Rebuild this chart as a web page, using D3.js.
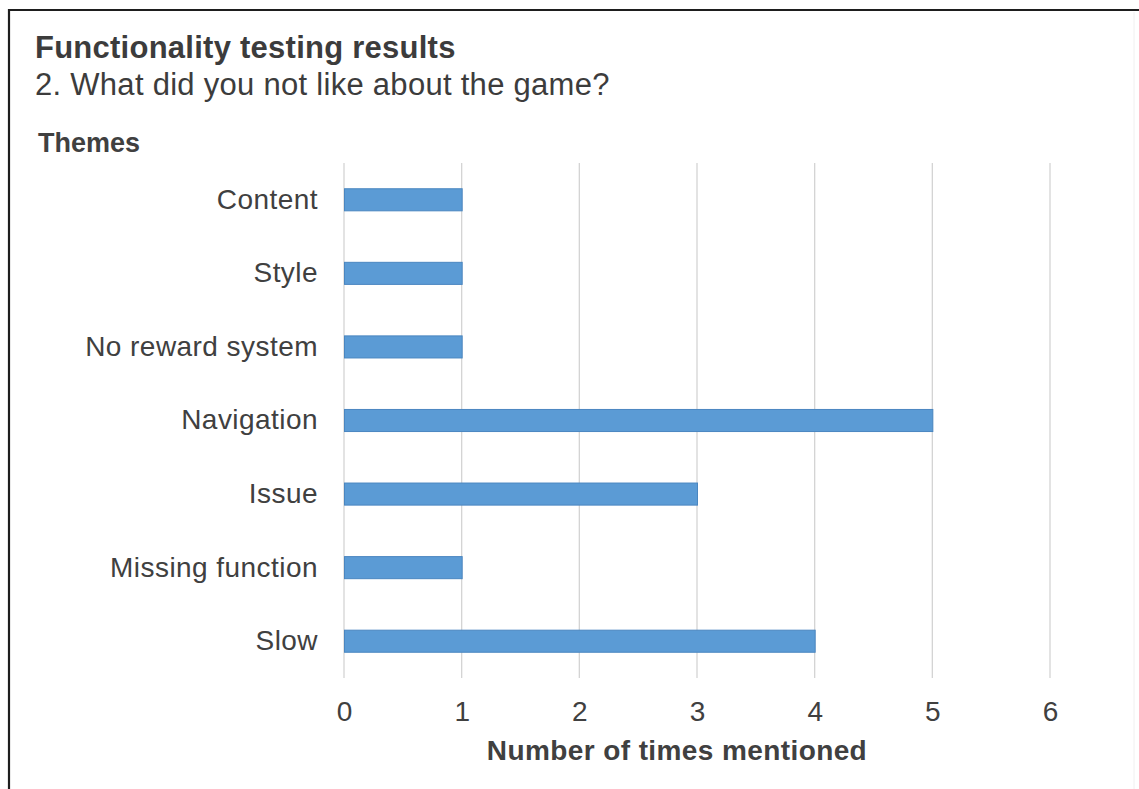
<!DOCTYPE html>
<html>
<head>
<meta charset="utf-8">
<script src="https://cdn.jsdelivr.net/npm/d3@7"></script>
<style>
  html, body { margin: 0; padding: 0; background: #fff; }
  svg { display: block; font-family: "Liberation Sans", Arial, sans-serif; }
</style>
</head>
<body>
<svg id="chart" width="1139" height="789"></svg>
<script>
// Themes mentioned in answers to question 2
const themes = ["Content", "Style", "No reward system", "Navigation", "Issue", "Missing function", "Slow"];
const mentions = [1, 1, 1, 5, 3, 1, 4];
const tickValues = [0, 1, 2, 3, 4, 5, 6];

const title = "Functionality testing results";
const subtitle = "2. What did you not like about the game?";
const yTitle = "Themes";
const xTitle = "Number of times mentioned";

const svg = d3.select("#chart");
const W = 1139, H = 789;
const plot = { left: 344, right: 1050, top: 163, bottom: 678 };
const textColor = "#404040";

svg.append("rect").attr("width", W).attr("height", H).attr("fill", "#fff");

// frame edges
svg.append("line").attr("x1", 8).attr("x2", W).attr("y1", 10).attr("y2", 10)
  .attr("stroke", "#1e1e1e").attr("stroke-width", 2.2);
svg.append("line").attr("x1", 9).attr("x2", 9).attr("y1", 9).attr("y2", H)
  .attr("stroke", "#1e1e1e").attr("stroke-width", 2.2);
svg.append("line").attr("x1", 1134).attr("x2", 1134).attr("y1", 12).attr("y2", H)
  .attr("stroke", "#f0f0f0").attr("stroke-width", 1);

const x = d3.scaleLinear().domain([0, 6]).range([plot.left, plot.right]);
const y = d3.scaleBand().domain(themes).range([plot.top, plot.bottom]).paddingInner(0.7).paddingOuter(0.35);

// vertical gridlines
svg.append("g").selectAll("line").data(tickValues).join("line")
  .attr("x1", d => x(d)).attr("x2", d => x(d))
  .attr("y1", plot.top).attr("y2", plot.bottom)
  .attr("stroke", "#d4d4d4").attr("stroke-width", 1.3);

// bars
svg.append("g").selectAll("rect").data(themes).join("rect")
  .attr("x", x(0) + 0.5)
  .attr("y", d => y(d))
  .attr("width", (d, i) => x(mentions[i]) - x(0))
  .attr("height", y.bandwidth())
  .attr("fill", "#5b9bd5")
  .attr("stroke", "#4a86c0")
  .attr("stroke-width", 1);

// category axis
const yAxis = d3.axisLeft(y).tickSize(0).tickPadding(0);
const gy = svg.append("g").attr("transform", `translate(318,0)`).call(yAxis);
gy.select(".domain").remove();
gy.selectAll("text")
  .attr("fill", textColor)
  .attr("font-size", 28)
  .attr("letter-spacing", 0.45)
  .attr("font-family", "Liberation Sans, Arial, sans-serif");

// value axis
const xAxis = d3.axisBottom(x).tickValues(tickValues).tickSize(0).tickPadding(0).tickFormat(d3.format("d"));
const gx = svg.append("g").attr("transform", `translate(0,701)`).call(xAxis);
gx.select(".domain").remove();
gx.selectAll("text")
  .attr("fill", textColor)
  .attr("font-size", 28)
  .attr("font-family", "Liberation Sans, Arial, sans-serif");

// titles
svg.append("text").attr("x", 35).attr("y", 58).attr("letter-spacing", 0.25)
  .attr("font-size", 31).attr("font-weight", "bold").attr("fill", "#3c3c3c").text(title);
svg.append("text").attr("x", 35).attr("y", 95).attr("letter-spacing", 0.28)
  .attr("font-size", 31).attr("fill", "#3c3c3c").text(subtitle);
svg.append("text").attr("x", 38).attr("y", 152)
  .attr("font-size", 27).attr("font-weight", "bold").attr("fill", textColor).text(yTitle);
svg.append("text").attr("x", 677).attr("y", 760).attr("text-anchor", "middle").attr("letter-spacing", 0.4)
  .attr("font-size", 28).attr("font-weight", "bold").attr("fill", textColor).text(xTitle);
</script>
</body>
</html>
